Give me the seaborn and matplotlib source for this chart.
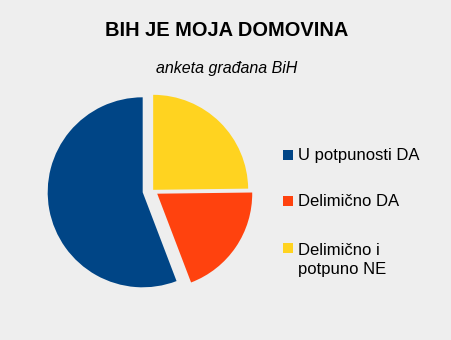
import matplotlib
matplotlib.use("Agg")
import matplotlib.pyplot as plt
import seaborn as sns
from matplotlib.patches import Rectangle

# Data
categories = ["U potpunosti DA", "Delimično DA", "Delimično i\npotpuno NE"]
values = [55.8, 19.4, 24.8]
colors = ["#004586", "#ff420e", "#ffd320"]
explode = [0.105, 0.06, 0.01]
title = "BIH JE MOJA DOMOVINA"
subtitle = "anketa građana BiH"

sns.set_theme(style="white")
plt.rcParams['font.family'] = ['Liberation Sans', 'DejaVu Sans']

bg = "#eeeeee"
W, H = 451, 340
fig = plt.figure(figsize=(W / 100, H / 100), dpi=100, facecolor=bg)

r_px = 95.0
cx, cy = 152.5, 190.5
half = 1.2
ax = fig.add_axes([(cx - half * r_px) / W, (H - cy - half * r_px) / H,
                   2 * half * r_px / W, 2 * half * r_px / H])
ax.set_facecolor(bg)
ax.pie(values, colors=colors, explode=explode, startangle=90, counterclock=True,
       radius=1.0, wedgeprops=dict(linewidth=0))
ax.set_xlim(-half, half)
ax.set_ylim(-half, half)
ax.set_aspect('equal')
ax.axis('off')

fig.text(227 / W, 1 - 31 / H, title, ha='center', va='center',
         fontsize=14.4, fontweight='bold', color='#000000')
fig.text(227 / W, 1 - 69 / H, subtitle, ha='center', va='center',
         fontsize=11.5, fontstyle='italic', color='#000000')

# Legend
baselines = [160, 206, 252.7]
line_gap = 21.3
for lab, col, yb in zip(categories, colors, baselines):
    fig.patches.append(Rectangle((283 / W, 1 - yb / H), 10 / W, 10 / H,
                                 transform=fig.transFigure, facecolor=col,
                                 edgecolor='none'))
    nlines = lab.count("\n") + 1
    y_last = yb + (nlines - 1) * line_gap
    fig.text(297.5 / W, 1 - y_last / H, lab, ha='left', va='baseline',
             fontsize=12, color='#000000', linespacing=1.3)

fig.savefig("out.png", dpi=100, facecolor=bg)
